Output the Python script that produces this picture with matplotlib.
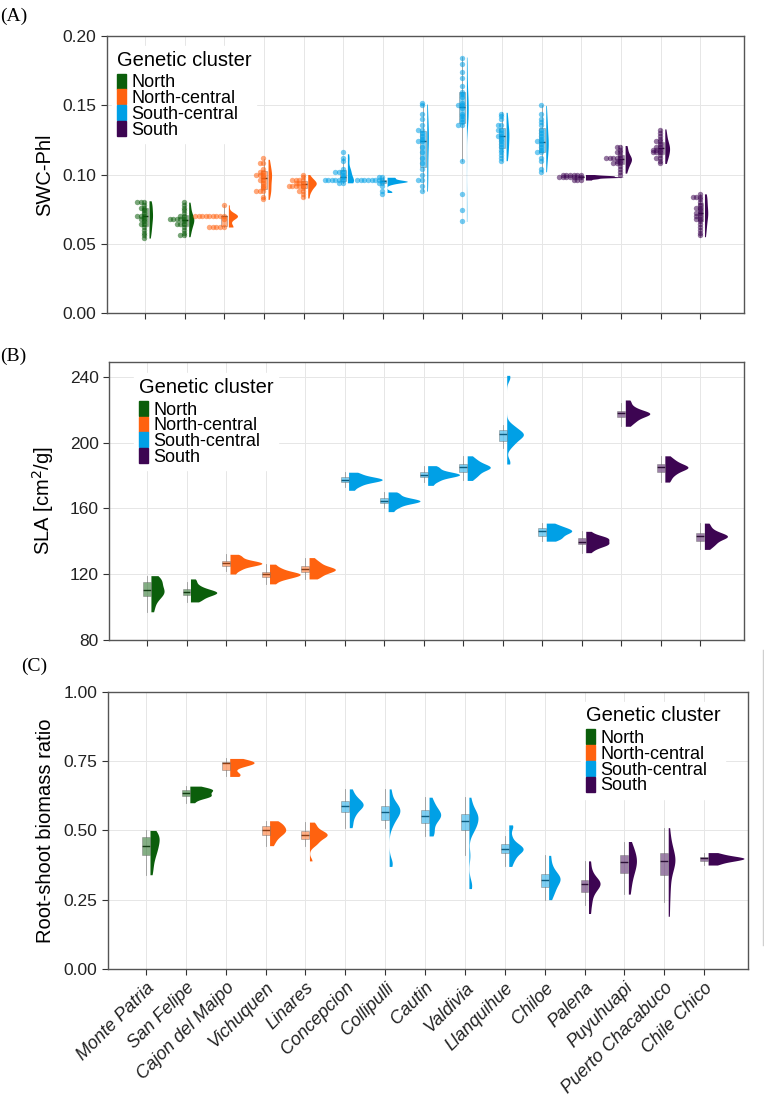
import numpy as np
import matplotlib.pyplot as plt
import matplotlib.transforms as mtransforms
from matplotlib.patches import Patch
from matplotlib.lines import Line2D

plt.rcParams['font.family'] = ['Liberation Sans', 'DejaVu Sans']

sites = ["Monte Patria", "San Felipe", "Cajon del Maipo", "Vichuquen", "Linares",
         "Concepcion", "Collipulli", "Cautin", "Valdivia", "Llanquihue",
         "Chiloe", "Palena", "Puyuhuapi", "Puerto Chacabuco", "Chile Chico"]
site_cluster = ["North", "North", "North-central", "North-central", "North-central",
                "South-central", "South-central", "South-central", "South-central", "South-central",
                "South-central", "South", "South", "South", "South"]
cluster_names = ["North", "North-central", "South-central", "South"]
cluster_colors = ["#0B5E0B", "#FF620F", "#00A0E6", "#3D0552"]

# (A) water content, one list per site
swc_values = [
    [0.054, 0.056, 0.058, 0.060, 0.062, 0.063, 0.064, 0.066, 0.068, 0.069, 0.070, 0.070, 0.071, 0.072, 0.074, 0.076, 0.077, 0.078, 0.079, 0.080, 0.081],
    [0.055, 0.057, 0.059, 0.061, 0.062, 0.063, 0.064, 0.065, 0.066, 0.067, 0.067, 0.068, 0.068, 0.069, 0.070, 0.071, 0.072, 0.074, 0.076, 0.078, 0.080],
    [0.062, 0.062, 0.062, 0.062, 0.0625, 0.069, 0.070, 0.070, 0.070, 0.070, 0.070, 0.070, 0.070, 0.070, 0.0705, 0.078],
    [0.082, 0.085, 0.088, 0.088, 0.088, 0.090, 0.092, 0.094, 0.096, 0.097, 0.098, 0.099, 0.100, 0.101, 0.102, 0.103, 0.105, 0.107, 0.109, 0.111],
    [0.083, 0.086, 0.088, 0.089, 0.090, 0.091, 0.092, 0.092, 0.093, 0.093, 0.094, 0.094, 0.094, 0.095, 0.096, 0.096, 0.097, 0.098, 0.100],
    [0.094, 0.094, 0.095, 0.095, 0.095, 0.095, 0.096, 0.097, 0.098, 0.099, 0.102, 0.103, 0.103, 0.104, 0.110, 0.112, 0.115],
    [0.087, 0.088, 0.093, 0.094, 0.094, 0.095, 0.095, 0.095, 0.095, 0.095, 0.096, 0.096, 0.097, 0.098, 0.098],
    [0.088, 0.092, 0.095, 0.095, 0.100, 0.105, 0.108, 0.112, 0.116, 0.120, 0.124, 0.125, 0.126, 0.128, 0.130, 0.131, 0.132, 0.135, 0.140, 0.145, 0.150, 0.151],
    [0.066, 0.074, 0.087, 0.110, 0.136, 0.137, 0.138, 0.140, 0.143, 0.145, 0.148, 0.150, 0.150, 0.152, 0.155, 0.158, 0.160, 0.163, 0.170, 0.175, 0.180, 0.185],
    [0.110, 0.112, 0.114, 0.117, 0.119, 0.120, 0.122, 0.124, 0.126, 0.128, 0.129, 0.130, 0.131, 0.133, 0.135, 0.137, 0.140, 0.143, 0.145],
    [0.102, 0.105, 0.110, 0.113, 0.115, 0.117, 0.119, 0.121, 0.122, 0.123, 0.124, 0.126, 0.128, 0.130, 0.133, 0.136, 0.138, 0.141, 0.145, 0.150],
    [0.096, 0.097, 0.097, 0.098, 0.098, 0.098, 0.098, 0.098, 0.098, 0.0985, 0.099, 0.099, 0.099, 0.099, 0.0995, 0.100],
    [0.101, 0.103, 0.105, 0.106, 0.107, 0.108, 0.109, 0.110, 0.110, 0.111, 0.111, 0.112, 0.112, 0.113, 0.114, 0.115, 0.116, 0.118, 0.120, 0.121],
    [0.108, 0.110, 0.112, 0.113, 0.114, 0.115, 0.116, 0.117, 0.118, 0.119, 0.119, 0.120, 0.121, 0.122, 0.123, 0.124, 0.126, 0.128, 0.130, 0.133],
    [0.055, 0.058, 0.060, 0.062, 0.064, 0.066, 0.068, 0.069, 0.070, 0.071, 0.072, 0.073, 0.074, 0.075, 0.076, 0.078, 0.080, 0.082, 0.083, 0.084, 0.085, 0.086],
]

# (B) specific leaf area
sla_values = [
    [97, 100, 103, 105, 106, 107, 108, 109, 109, 110, 110, 111, 112, 114, 115, 116, 116, 117, 118, 119],
    [103, 104, 105, 106, 107, 107, 108, 108, 109, 109, 109, 110, 110, 111, 112, 113, 115, 117],
    [120, 122, 123, 124, 125, 125, 126, 126, 126, 127, 127, 127, 128, 128, 129, 130, 131, 132],
    [114, 116, 117, 118, 118, 119, 119, 120, 120, 120, 121, 121, 122, 123, 124, 126],
    [117, 118, 119, 120, 121, 121, 122, 122, 123, 123, 123, 124, 124, 125, 126, 127, 128, 130],
    [171, 173, 174, 175, 176, 176, 177, 177, 177, 178, 178, 178, 179, 179, 180, 181, 182],
    [158, 160, 161, 162, 163, 163, 164, 164, 164, 165, 165, 165, 166, 166, 167, 168, 169, 170],
    [174, 176, 177, 178, 179, 179, 180, 180, 180, 181, 181, 181, 182, 182, 183, 184, 185, 186],
    [177, 179, 180, 181, 182, 183, 184, 184, 185, 185, 185, 186, 186, 187, 188, 189, 190, 192],
    [187, 189, 197, 199, 200, 201, 202, 203, 204, 204, 205, 205, 205, 206, 206, 207, 208, 209, 210, 211, 239, 241],
    [140, 141, 142, 142, 143, 144, 145, 145, 146, 146, 146, 147, 147, 148, 148, 149, 150, 151],
    [133, 135, 136, 137, 138, 138, 138, 139, 139, 140, 141, 141, 142, 142, 142, 143, 144, 146],
    [210, 212, 213, 214, 215, 216, 216, 217, 217, 218, 218, 218, 219, 219, 220, 221, 222, 224, 226],
    [176, 178, 180, 181, 182, 183, 184, 184, 185, 185, 185, 186, 186, 187, 188, 189, 190, 192],
    [135, 137, 138, 139, 140, 141, 142, 142, 143, 143, 143, 144, 144, 145, 146, 147, 149, 151],
]

# (C) root-shoot biomass ratio
rsr_values = [
    [0.34, 0.36, 0.38, 0.40, 0.41, 0.42, 0.43, 0.44, 0.44, 0.45, 0.46, 0.47, 0.47, 0.48, 0.48, 0.49, 0.49, 0.50],
    [0.60, 0.615, 0.62, 0.622, 0.625, 0.627, 0.63, 0.635, 0.64, 0.645, 0.647, 0.648, 0.65, 0.652, 0.66],
    [0.695, 0.70, 0.703, 0.705, 0.73, 0.735, 0.74, 0.742, 0.745, 0.745, 0.746, 0.748, 0.75, 0.752, 0.76],
    [0.445, 0.46, 0.47, 0.48, 0.485, 0.49, 0.495, 0.50, 0.50, 0.505, 0.51, 0.515, 0.52, 0.525, 0.53, 0.535],
    [0.39, 0.445, 0.455, 0.46, 0.47, 0.475, 0.48, 0.48, 0.485, 0.49, 0.49, 0.495, 0.50, 0.51, 0.52, 0.53],
    [0.51, 0.53, 0.55, 0.56, 0.57, 0.58, 0.585, 0.59, 0.59, 0.595, 0.60, 0.605, 0.61, 0.62, 0.63, 0.65],
    [0.37, 0.38, 0.39, 0.51, 0.525, 0.535, 0.545, 0.55, 0.555, 0.56, 0.565, 0.57, 0.572, 0.575, 0.58, 0.585, 0.59, 0.595, 0.60, 0.61, 0.63, 0.65],
    [0.48, 0.49, 0.50, 0.52, 0.53, 0.54, 0.55, 0.55, 0.555, 0.56, 0.565, 0.57, 0.58, 0.59, 0.60, 0.62],
    [0.29, 0.30, 0.31, 0.41, 0.49, 0.50, 0.51, 0.515, 0.52, 0.53, 0.535, 0.54, 0.545, 0.55, 0.555, 0.56, 0.565, 0.57, 0.58, 0.60, 0.62],
    [0.37, 0.39, 0.40, 0.41, 0.42, 0.425, 0.43, 0.43, 0.435, 0.44, 0.445, 0.45, 0.46, 0.48, 0.51, 0.52],
    [0.25, 0.27, 0.28, 0.29, 0.30, 0.31, 0.315, 0.32, 0.325, 0.33, 0.335, 0.34, 0.35, 0.36, 0.38, 0.41],
    [0.20, 0.23, 0.25, 0.27, 0.28, 0.29, 0.30, 0.30, 0.31, 0.31, 0.315, 0.32, 0.33, 0.34, 0.36, 0.39],
    [0.27, 0.30, 0.32, 0.34, 0.35, 0.36, 0.37, 0.38, 0.39, 0.39, 0.40, 0.41, 0.42, 0.43, 0.44, 0.46],
    [0.19, 0.24, 0.28, 0.31, 0.34, 0.36, 0.37, 0.38, 0.39, 0.39, 0.40, 0.41, 0.42, 0.43, 0.45, 0.47, 0.51],
    [0.375, 0.38, 0.385, 0.39, 0.39, 0.392, 0.395, 0.397, 0.40, 0.40, 0.40, 0.402, 0.405, 0.408, 0.41, 0.415, 0.42],
]

color_of = dict(zip(cluster_names, cluster_colors))


def bw_nrd0(x):
    # same rule as R's default density bandwidth
    sd = x.std(ddof=1)
    q75, q25 = np.percentile(x, [75, 25])
    lo = min(sd, (q75 - q25) / 1.34) if q75 > q25 else sd
    return 0.9 * lo * len(x) ** -0.2


def kde(x, grid):
    bw = bw_nrd0(x)
    z = (grid[:, None] - x[None, :]) / bw
    return np.exp(-0.5 * z ** 2).sum(axis=1) / (len(x) * bw * np.sqrt(2 * np.pi))


def draw_panel(ax, values, max_w, box_w=0.2, dot_bin=None):
    grids, dens = [], []
    for v in values:
        v = np.asarray(v, float)
        g = np.linspace(v.min(), v.max(), 500)
        grids.append(g)
        dens.append(kde(v, g))
    scale = max_w / max(d.max() for d in dens)

    for i, v in enumerate(values):
        x0 = i + 1
        col = color_of[site_cluster[i]]
        v = np.asarray(v, float)
        ax.fill_betweenx(grids[i], x0 + 0.1, x0 + 0.1 + dens[i] * scale,
                         color=col, lw=0, zorder=3)
        bp = ax.boxplot(v, positions=[x0], widths=box_w, patch_artist=True,
                        showfliers=False, showcaps=False, manage_ticks=False,
                        boxprops=dict(facecolor=col, alpha=0.5, edgecolor='#707070', lw=0.6),
                        whiskerprops=dict(color='#9a9a9a', lw=0.6),
                        medianprops=dict(color='#1a1a1a', lw=1.0))
        for b in bp['boxes']:
            b.set_zorder(4)
        if dot_bin is not None:
            # stack binned dots leftwards from the box
            bins = np.round(v / dot_bin) * dot_bin
            for b in np.unique(bins):
                k = int(np.sum(np.isclose(bins, b)))
                xs = x0 - 0.02 - 0.09 * np.arange(k)
                ax.scatter(xs, np.full(k, b), s=15, color=col, alpha=0.55,
                           lw=0, zorder=5)


def style_axes(ax, ylim, yticks, yfmt, ylabel, show_x):
    ax.set_xlim(0.04, 16.1)
    ax.set_ylim(*ylim)
    ax.set_yticks(yticks)
    ax.set_yticklabels([yfmt.format(t) for t in yticks], fontsize=12.5, color='#222222')
    ax.set_xticks(range(1, len(sites) + 1))
    if show_x:
        ax.set_xticklabels(sites, rotation=45, ha='right', va='top', rotation_mode='anchor',
                           fontsize=13, style='italic', color='#222222')
        shift = mtransforms.ScaledTranslation(0.09, -0.2, fig.dpi_scale_trans)
        for lab in ax.get_xticklabels():
            lab.set_transform(lab.get_transform() + shift)
    else:
        ax.set_xticklabels([])
    ax.tick_params(length=4, width=0.8, color='#333333')
    ax.grid(color='#E6E6E6', lw=0.7)
    ax.set_axisbelow(True)
    for s in ax.spines.values():
        s.set_color('#555555')
        s.set_linewidth(1.0)
    ax.set_ylabel(ylabel, fontsize=14.5)
    ax.yaxis.set_label_coords(-0.083, 0.5)


def add_legend(ax, anchor):
    handles = [Patch(facecolor=c, edgecolor=c) for c in cluster_colors]
    leg = ax.legend(handles, cluster_names, title="Genetic cluster", loc='upper left',
                    bbox_to_anchor=anchor, fontsize=13, title_fontsize=14.5,
                    handlelength=0.5, handleheight=0.9, handletextpad=0.3,
                    labelspacing=-0.11, borderpad=0.25, borderaxespad=0,
                    frameon=True, fancybox=False, framealpha=1, edgecolor='white')
    leg._legend_box.align = 'left'
    leg._legend_box.sep = 3  # a little room under the title
    leg.set_zorder(10)


fig = plt.figure(figsize=(7.64, 11.01), dpi=100)
ax_a = fig.add_axes([0.140, 0.716, 0.834, 0.251])
ax_b = fig.add_axes([0.1427, 0.419, 0.831, 0.252])
ax_c = fig.add_axes([0.141, 0.120, 0.838, 0.2515])

draw_panel(ax_a, swc_values, max_w=0.95, box_w=0.15, dot_bin=0.002)
style_axes(ax_a, (0, 0.2), [0, 0.05, 0.10, 0.15, 0.20], "{:.2f}", "SWC-Phl", False)
add_legend(ax_a, (0.008, 0.965))

draw_panel(ax_b, sla_values, max_w=0.85)
style_axes(ax_b, (80, 249), [80, 120, 160, 200, 240], "{:.0f}", "SLA [cm$^2$/g]", False)
add_legend(ax_b, (0.04, 0.96))

draw_panel(ax_c, rsr_values, max_w=0.9)
style_axes(ax_c, (0, 1.0), [0, 0.25, 0.50, 0.75, 1.00], "{:.2f}", "Root-shoot biomass ratio", True)
add_legend(ax_c, (0.74, 0.965))

for lab, y, x in [("(A)", 0.985, 0.0), ("(B)", 0.676, 0.0), ("(C)", 0.395, 0.027)]:
    fig.text(x, y, lab, family=['Liberation Serif', 'DejaVu Serif'], fontsize=14, va='center')

# faint frame edge to the right of panel C
fig.add_artist(Line2D([0.9985, 0.9985], [0.142, 0.41], color='#D0D0D0', lw=1))

fig.savefig("out.png", dpi=100)
